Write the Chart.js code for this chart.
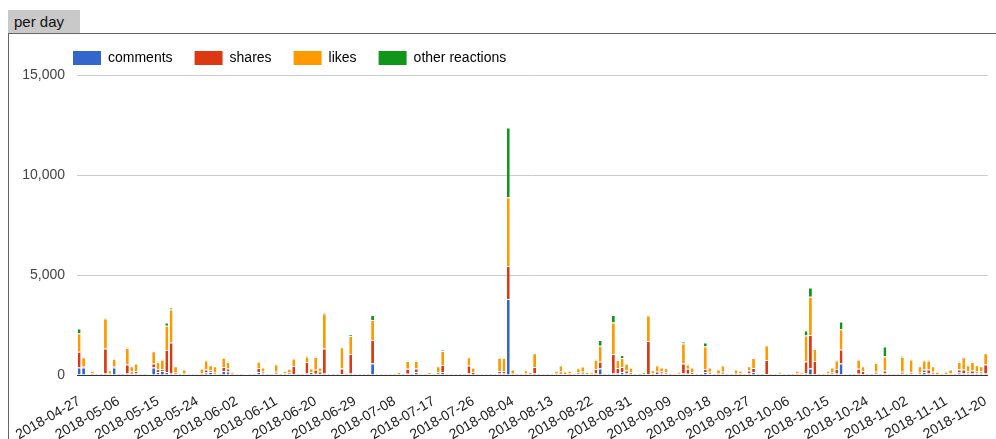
<!DOCTYPE html>
<html>
<head>
<meta charset="utf-8">
<script src="https://cdn.jsdelivr.net/npm/chart.js@4.4.0/dist/chart.umd.min.js"></script>
<style>
  body { margin: 0; background: #fff; width: 996px; height: 439px; overflow: hidden; position: relative; font-family: Arial, "Liberation Sans", sans-serif; }
  #tab { position: absolute; left: 8px; top: 10px; width: 72px; height: 23px; background: #c9c9c9; color: #111; font-size: 15px; line-height: 24px; padding-left: 6px; box-sizing: border-box; }
  #box { position: absolute; left: 8px; top: 33px; width: 1100px; height: 500px; border-top: 1px solid #666; border-left: 1px solid #666; }
  #canvas { position: absolute; left: 0; top: 0; }
</style>
</head>
<body>
<div id="tab">per day</div>
<div id="box"></div>
<canvas id="canvas" width="996" height="439"></canvas>
<script>
const seriesNames = ['comments', 'shares', 'likes', 'other reactions'];
const seriesColors = ['#3366cc', '#dc3912', '#ff9900', '#109618'];
const tickLabels = ['2018-04-27', '2018-05-06', '2018-05-15', '2018-05-24', '2018-06-02', '2018-06-11',
  '2018-06-20', '2018-06-29', '2018-07-08', '2018-07-17', '2018-07-26', '2018-08-04', '2018-08-13',
  '2018-08-22', '2018-08-31', '2018-09-09', '2018-09-18', '2018-09-27', '2018-10-06', '2018-10-15',
  '2018-10-24', '2018-11-02', '2018-11-11', '2018-11-20'];

// one value per day, 2018-04-27 .. 2018-11-20
const comments = [
  380,370,10,30,5,5,100,40,380,5,
  5,100,60,80,5,5,10,380,150,200,
  150,100,60,5,40,5,5,5,30,120,
  150,60,5,200,170,30,5,5,10,5,
  5,150,80,5,5,60,10,30,40,50,
  5,5,100,50,60,50,100,5,5,5,
  50,5,100,5,5,5,5,580,5,10,
  10,5,5,20,5,60,5,150,10,5,
  20,5,40,150,5,5,5,5,5,80,
  30,5,5,5,5,5,100,100,3800,30,
  5,5,30,20,100,5,5,5,5,30,
  60,20,30,5,40,60,20,20,100,330,
  5,5,80,100,150,80,40,5,5,20,
  50,30,50,80,40,5,10,20,80,60,
  40,5,5,150,60,5,30,60,5,5,
  30,30,10,80,150,5,5,50,10,5,
  20,5,5,5,30,20,80,330,50,10,
  5,30,40,100,580,10,5,5,60,50,
  5,5,60,5,80,5,5,10,60,5,
  60,10,50,150,100,60,20,10,20,60,
  5,120,80,80,80,80,80,80
];
const shares = [
  780,80,0,40,5,10,1230,40,60,5,
  10,420,120,120,5,10,10,200,150,100,
  1100,1520,80,5,40,0,5,0,60,150,
  80,80,5,200,150,30,0,5,10,0,
  5,200,100,5,0,100,20,40,80,400,
  10,5,550,100,200,130,1230,5,10,5,
  280,10,950,5,0,10,5,1170,10,20,
  20,0,5,30,5,250,10,170,20,5,
  30,0,100,350,5,0,5,10,0,400,
  120,0,5,0,5,10,100,100,1650,60,
  10,5,40,30,300,5,0,10,5,40,
  120,30,50,10,80,100,30,40,200,330,
  10,5,970,250,250,150,100,5,10,30,
  1650,50,120,100,80,5,20,40,500,250,
  100,5,10,150,100,5,60,100,5,10,
  70,50,20,150,200,5,10,700,20,5,
  40,0,5,10,40,40,600,1670,650,20,
  5,50,80,200,700,10,5,10,250,150,
  5,10,100,10,150,10,5,20,100,10,
  80,10,60,120,180,100,30,20,30,40,
  10,150,200,100,150,100,100,450
];
const likes = [
  920,440,30,140,20,25,1500,160,370,20,
  25,830,260,370,20,25,30,610,350,460,
  1210,1660,300,20,190,15,20,15,230,460,
  260,300,20,460,330,100,15,20,40,15,
  20,310,190,20,15,370,45,140,190,380,
  25,20,280,170,640,190,1750,20,25,20,
  1060,25,900,20,15,25,20,1000,25,45,
  45,15,20,90,20,390,25,380,45,20,
  75,15,300,700,20,15,20,25,15,410,
  210,15,20,15,20,25,660,660,3420,180,
  25,20,170,95,690,20,15,25,20,140,
  300,120,130,25,220,260,95,100,460,800,
  25,20,1580,400,450,330,220,20,25,95,
  1270,160,310,190,220,20,45,100,990,220,
  230,20,25,1120,210,20,180,320,20,25,
  170,130,45,210,500,20,25,720,45,20,
  100,15,20,25,140,100,1290,1910,600,45,
  20,130,250,430,1010,40,20,25,450,240,
  20,25,440,25,690,25,20,45,750,25,
  640,30,330,460,450,280,110,45,110,170,
  25,380,610,310,420,310,260,560
];
const otherReactions = [
  250,30,0,10,0,0,50,10,20,0,
  0,30,10,10,0,0,0,30,20,20,
  170,100,10,0,10,0,0,0,10,20,
  10,10,0,20,20,10,0,0,0,0,
  0,20,10,0,0,20,5,10,10,20,
  0,0,50,10,20,10,50,0,0,0,
  30,0,80,0,0,0,0,250,0,5,
  5,0,0,10,0,20,0,20,5,0,
  5,0,10,50,0,0,0,0,0,30,
  10,0,0,0,0,0,20,20,3510,10,
  0,0,10,5,30,0,0,0,0,10,
  20,10,10,0,10,10,5,10,20,290,
  0,0,370,30,150,20,10,0,0,5,
  30,10,20,10,10,0,5,10,100,20,
  10,0,0,200,10,0,10,20,0,0,
  10,10,5,10,30,0,0,30,5,0,
  10,0,0,0,10,10,250,470,30,5,
  0,10,10,20,380,0,0,0,20,10,
  0,0,20,0,500,0,0,5,40,0,
  20,0,10,20,20,10,10,5,10,10,
  0,20,30,10,20,10,10,30
];

// daily categories
const days = [];
const start = new Date(Date.UTC(2018, 3, 27));
for (let i = 0; i < comments.length; i++) {
  const d = new Date(start.getTime() + i * 86400000);
  days.push(d.toISOString().slice(0, 10));
}

const seriesData = [comments, shares, likes, otherReactions];
const font = { family: 'Arial, "Liberation Sans", sans-serif', size: 14 };

// move the legend right so it lines up with the plot, like the original
const legendShift = {
  id: 'legendShift',
  afterLayout(chart) {
    chart.legend.left += 43;
    chart.legend.right += 43;
  }
};

new Chart(document.getElementById('canvas'), {
  type: 'bar',
  plugins: [legendShift],
  data: {
    labels: days,
    datasets: seriesNames.map((name, i) => ({
      label: name,
      data: seriesData[i],
      backgroundColor: seriesColors[i],
      borderColor: '#ffffff',
      borderWidth: { top: 1, left: 0, right: 0, bottom: 0 },
      borderSkipped: false,
      barPercentage: 0.65,
      categoryPercentage: 1
    }))
  },
  options: {
    responsive: false,
    devicePixelRatio: 1,
    animation: false,
    layout: { padding: { left: 8, top: 29, right: 1, bottom: 0 } },
    plugins: {
      tooltip: { enabled: false },
      legend: {
        position: 'top',
        align: 'start',
        maxHeight: 46,
        labels: {
          boxWidth: 28,
          boxHeight: 14,
          padding: 22,
          color: '#222',
          font: font,
          generateLabels: (chart) => seriesNames.map((name, i) => ({
            text: name, fillStyle: seriesColors[i], strokeStyle: seriesColors[i],
            lineWidth: 0, datasetIndex: i, hidden: false
          }))
        }
      }
    },
    scales: {
      x: {
        stacked: true,
        // invisible tick marks, only used to push the labels down
        grid: { display: true, drawOnChartArea: false, color: 'rgba(0,0,0,0)', drawTicks: true, tickLength: 16 },
        border: { display: true, color: '#333', width: 1 },
        ticks: {
          autoSkip: false,
          maxRotation: 30,
          minRotation: 30,
          padding: 2,
          color: '#222',
          font: font,
          callback: function (value) {
            const lab = this.getLabelForValue(value);
            return tickLabels.includes(lab) ? lab : null;
          }
        },
        afterFit: (scale) => { scale.height = 64; }
      },
      y: {
        stacked: true,
        min: 0,
        max: 15000,
        border: { display: false },
        grid: { color: (c) => c.tick.value === 0 ? '#333' : '#cccccc', drawTicks: false },
        ticks: {
          stepSize: 5000,
          padding: 12,
          color: '#444',
          font: font,
          callback: (v) => v.toLocaleString('en-US')
        },
        afterFit: (scale) => { scale.width = 69; }
      }
    }
  }
});
</script>
</body>
</html>
